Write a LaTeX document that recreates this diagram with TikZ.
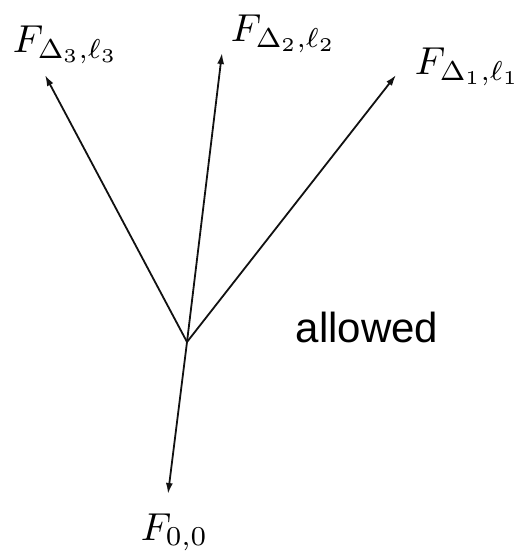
\documentclass[tikz,border=0pt]{standalone}
\usepackage{fontspec}
\newfontfamily\labelsans{Liberation Sans}
\usetikzlibrary{arrows.meta}
\definecolor{Ink}{HTML}{111111}

\begin{document}
\begin{tikzpicture}[x=1pt,y=1pt,
  vec/.style={Ink,line width=1.8pt,-{Latex[length=11pt,width=7pt]}},
  lab/.style={inner sep=0pt,anchor=base west,scale=3.9}]
\useasboundingbox (0,0) rectangle (519,555);
\coordinate (o) at (187,213);
\coordinate (t3) at (45,480);
\coordinate (t2) at (222,502);
\coordinate (t1) at (396,480);
\coordinate (t0) at (168,61);
\draw[vec] (o) -- (t3);
\draw[vec] (o) -- (t2);
\draw[vec] (o) -- (t1);
\draw[vec] (o) -- (t0);
\node[lab] (l3) at (12,502) {$F_{\Delta_3,\ell_3}$};
\node[lab] (l2) at (230,513) {$F_{\Delta_2,\ell_2}$};
\node[lab] (l1) at (414,480) {$F_{\Delta_1,\ell_1}$};
\node[lab] (l0) at (140,15) {$F_{0,0}$};
\node[inner sep=0pt,anchor=base west,scale=4.2,font=\labelsans] (al) at (295,212) {allowed};
\end{tikzpicture}
\end{document}
